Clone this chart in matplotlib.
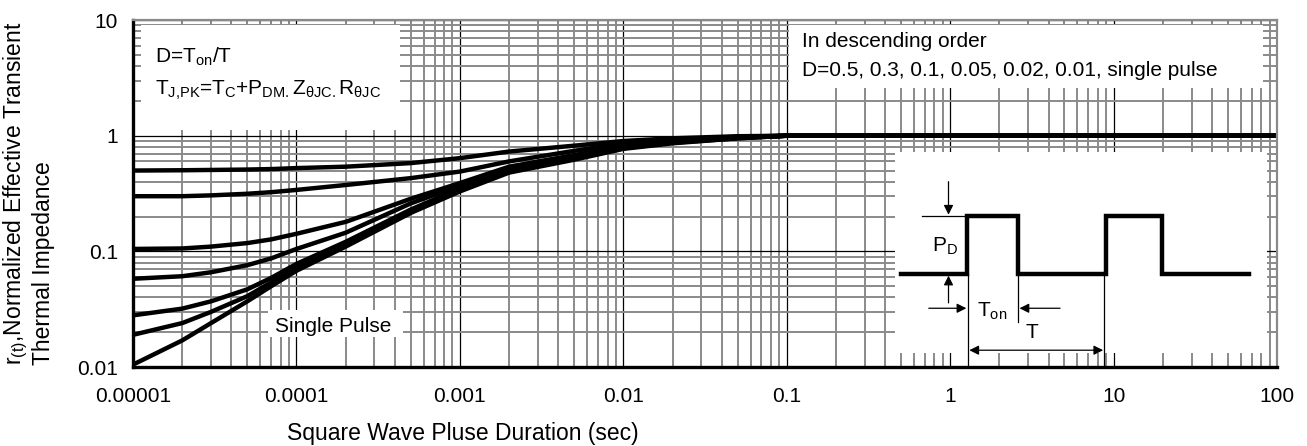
import matplotlib
matplotlib.use("Agg")
import matplotlib.pyplot as plt
from matplotlib.patches import Rectangle
from matplotlib.ticker import LogLocator, NullFormatter

plt.rcParams['font.family'] = ['Liberation Sans', 'DejaVu Sans']
plt.rcParams['mathtext.default'] = 'regular'

# pulse duration (s) and normalized transient thermal impedance per duty cycle
pulse_time = [1e-5, 2e-5, 3e-5, 5e-5, 7e-5, 1e-4, 2e-4, 5e-4, 1e-3, 2e-3,
              5e-3, 1e-2, 2e-2, 5e-2, 1e-1, 1, 10, 100]
r_d050 = [0.50, 0.503, 0.506, 0.51, 0.515, 0.525, 0.54, 0.58, 0.64, 0.73,
          0.82, 0.90, 0.95, 0.99, 1.0, 1.0, 1.0, 1.0]
r_d030 = [0.30, 0.30, 0.305, 0.315, 0.325, 0.34, 0.375, 0.43, 0.49, 0.60,
          0.74, 0.86, 0.92, 0.98, 1.0, 1.0, 1.0, 1.0]
r_d010 = [0.105, 0.106, 0.11, 0.118, 0.127, 0.142, 0.18, 0.285, 0.39, 0.54,
          0.68, 0.82, 0.90, 0.97, 1.0, 1.0, 1.0, 1.0]
r_d005 = [0.058, 0.061, 0.066, 0.076, 0.087, 0.105, 0.145, 0.26, 0.37, 0.52,
          0.66, 0.80, 0.89, 0.96, 1.0, 1.0, 1.0, 1.0]
r_d002 = [0.028, 0.032, 0.037, 0.047, 0.059, 0.078, 0.121, 0.23, 0.35, 0.50,
          0.64, 0.79, 0.88, 0.96, 1.0, 1.0, 1.0, 1.0]
r_d001 = [0.019, 0.024, 0.030, 0.041, 0.054, 0.073, 0.116, 0.222, 0.34, 0.49,
          0.63, 0.78, 0.87, 0.95, 1.0, 1.0, 1.0, 1.0]
r_single = [0.0105, 0.017, 0.024, 0.037, 0.050, 0.068, 0.110, 0.215, 0.33, 0.48,
            0.62, 0.77, 0.86, 0.95, 1.0, 1.0, 1.0, 1.0]
curves = [r_d050, r_d030, r_d010, r_d005, r_d002, r_d001, r_single]

x_ticks = [1e-5, 1e-4, 1e-3, 1e-2, 1e-1, 1, 10, 100]
x_labels = ['0.00001', '0.0001', '0.001', '0.01', '0.1', '1', '10', '100']
y_ticks = [0.01, 0.1, 1, 10]
y_labels = ['0.01', '0.1', '1', '10']

# duty-cycle waveform for the inset sketch (time, power level)
wave_t = [0.17, 1.94, 1.94, 3.31, 3.31, 5.67, 5.67, 7.18, 7.18, 9.52]
wave_p = [2.6, 2.6, 4.2, 4.2, 2.6, 2.6, 4.2, 4.2, 2.6, 2.6]

fig = plt.figure(figsize=(13.07, 4.46), dpi=100)
ax = fig.add_axes([0.1018, 0.177, 0.8753, 0.778])
ax.set_xscale('log')
ax.set_yscale('log')
ax.set_xlim(1e-5, 100)
ax.set_ylim(0.01, 10)

for r in curves:
    ax.plot(pulse_time, r, color='black', lw=3.2, solid_capstyle='butt', zorder=2)

ax.set_axisbelow(True)
ax.xaxis.set_minor_locator(LogLocator(base=10, subs=range(2, 10), numticks=20))
ax.yaxis.set_minor_locator(LogLocator(base=10, subs=range(2, 10), numticks=20))
ax.xaxis.set_minor_formatter(NullFormatter())
ax.yaxis.set_minor_formatter(NullFormatter())
ax.grid(which='minor', color='#8a8a8a', lw=1.4)
ax.grid(which='major', color='black', lw=0.9)
ax.set_xticks(x_ticks, x_labels)
ax.set_yticks(y_ticks, y_labels)
ax.tick_params(which='both', length=0)
ax.tick_params(axis='x', pad=14, labelsize=15)
ax.tick_params(axis='y', pad=11, labelsize=15)

for side in ['left', 'bottom']:
    ax.spines[side].set_linewidth(2.4)
    ax.spines[side].set_color('black')
for side in ['top', 'right']:
    ax.spines[side].set_linewidth(1.6)
    ax.spines[side].set_color('#8a8a8a')

ax.set_xlabel('Square Wave Pluse Duration (sec)', fontsize=16.5)
ax.xaxis.set_label_coords(0.288, -0.158)
ax.set_ylabel('r$_{(t)}$,Normalized Effective Transient\nThermal Impedance',
              fontsize=16.5, multialignment='left', linespacing=1.1)
ax.yaxis.set_label_coords(-0.068, 0.5)

# white panels behind the annotations
for x0, y0, w, h in [(0.007, 0.683, 0.226, 0.303),
                     (0.573, 0.804, 0.415, 0.182),
                     (0.118, 0.086, 0.118, 0.078),
                     (0.666, 0.040, 0.325, 0.580)]:
    ax.add_patch(Rectangle((x0, y0), w, h, transform=ax.transAxes,
                           facecolor='white', edgecolor='none', zorder=1.5))

txt = dict(transform=ax.transAxes, fontsize=15, va='center', zorder=3)
ax.text(0.0192, 0.894, 'D=T$_{on}$/T', **txt)
ax.text(0.0192, 0.798, 'T$_{J{,}PK}$=T$_{C}$+P$_{DM.}$Z$_{θJC.}$R$_{θJC}$', **txt)
ax.text(0.5845, 0.9375, 'In descending order', **txt)
ax.text(0.5845, 0.856, 'D=0.5, 0.3, 0.1, 0.05, 0.02, 0.01, single pulse', **txt)
ax.text(0.175, 0.118, 'Single Pulse', ha='center', **txt)

# inset sketch of the pulse train
ins = ax.inset_axes([0.666, 0.0, 0.325, 0.62])
ins.set_xlim(0, 10)
ins.set_ylim(0, 6)
ins.axis('off')
ins.patch.set_alpha(0)
ins.plot(wave_t, wave_p, color='black', lw=3.2, solid_joinstyle='miter')
thin = dict(color='black', lw=0.9)
ins.plot([0.74, 1.94], [4.2, 4.2], **thin)
ins.plot([1.97, 1.97], [2.6, 0.0], **thin)
ins.plot([3.31, 3.31], [2.6, 1.26], **thin)
ins.plot([5.63, 5.63], [2.6, 0.0], **thin)
arrow = dict(arrowstyle='-|>', color='black', lw=0.9, mutation_scale=14, shrinkA=0, shrinkB=0)
ins.annotate('', xy=(1.44, 4.25), xytext=(1.44, 5.17), arrowprops=arrow)
ins.annotate('', xy=(1.44, 2.55), xytext=(1.44, 1.79), arrowprops=arrow)
ins.annotate('', xy=(1.92, 1.64), xytext=(0.91, 1.64), arrowprops=arrow)
ins.annotate('', xy=(3.35, 1.64), xytext=(4.44, 1.64), arrowprops=arrow)
ins.annotate('', xy=(2.0, 0.47), xytext=(5.6, 0.47),
             arrowprops=dict(arrowstyle='<|-|>', color='black', lw=0.9,
                             mutation_scale=14, shrinkA=0, shrinkB=0))
ins.text(1.34, 3.36, 'P$_{D}$', fontsize=15, ha='center', va='center')
ins.text(2.61, 1.54, 'T$_{on}$', fontsize=15, ha='center', va='center')
ins.text(3.68, 0.95, 'T', fontsize=15, ha='center', va='center')

fig.savefig('out.png', dpi=100)
